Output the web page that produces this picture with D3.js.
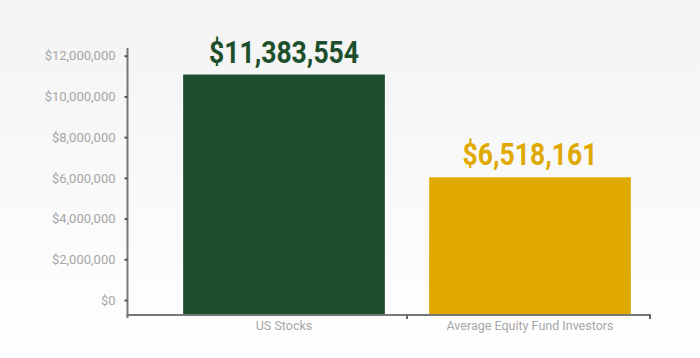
<!DOCTYPE html>
<html><head><meta charset="utf-8">
<script src="https://cdn.jsdelivr.net/npm/d3@7"></script>
<style>html,body{margin:0;padding:0;}svg{display:block;}</style>
</head><body>
<svg id="c" width="700" height="358"></svg>
<script>
const categories = ["US Stocks", "Average Equity Fund Investors"];
const values = [11383554, 6518161];
const barColors = ["#1d4f2c", "#dfa900"];
const yTicks = [0, 2000000, 4000000, 6000000, 8000000, 10000000, 12000000];

const svg = d3.select("#c");
const defs = svg.append("defs");
const grad = defs.append("linearGradient").attr("id","bg").attr("x1",0).attr("y1",0).attr("x2",0).attr("y2",1);
grad.append("stop").attr("offset","0%").attr("stop-color","#f3f3f3");
grad.append("stop").attr("offset","100%").attr("stop-color","#ffffff");
svg.append("rect").attr("width",700).attr("height",358).attr("fill","url(#bg)");

const x = d3.scaleBand().domain(categories).range([161, 653]).paddingInner(0.18).paddingOuter(0.09);
const yBar = d3.scaleLinear().domain([0, 12000000]).range([315, 61.5]);
const yAxisScale = d3.scaleLinear().domain([0, 12000000]).range([300, 55.7]);
const fmt = d3.format("$,");

// bars
svg.selectAll("rect.bar").data(values).join("rect").attr("class","bar")
  .attr("x",(d,i)=>x(categories[i])).attr("width",x.bandwidth())
  .attr("y",d=>yBar(d)).attr("height",d=>yBar(0)-yBar(d))
  .attr("fill",(d,i)=>barColors[i]);

// value labels (condensed look via horizontal compression)
const squeeze = 0.83;
svg.selectAll("text.val").data(values).join("text").attr("class","val")
  .attr("transform",(d,i)=>`translate(${x(categories[i])+x.bandwidth()/2},${yBar(d)-12}) scale(${squeeze},1)`)
  .attr("text-anchor","middle")
  .attr("font-family","Roboto, sans-serif")
  .attr("font-weight","bold").attr("font-size",32)
  .attr("fill",(d,i)=>barColors[i])
  .text(d=>fmt(d));

// y axis
const yAxis = d3.axisLeft(yAxisScale).tickValues(yTicks).tickFormat(fmt).tickSize(3).tickPadding(9);
const gy = svg.append("g").attr("transform","translate(127.5,0)").call(yAxis);
gy.select(".domain").attr("d","M0,48V316").attr("stroke","#777").attr("stroke-width",2);
gy.selectAll(".tick line").attr("stroke","#555").attr("stroke-width",2);
gy.selectAll(".tick text").attr("font-family","Roboto, sans-serif").attr("font-size",13).attr("fill","#a6a6a6");

// x axis
const gx = svg.append("g").attr("transform","translate(0,315)");
const xEnd = 650;
gx.append("line").attr("x1",126.5).attr("x2",xEnd+1).attr("y1",0).attr("y2",0).attr("stroke","#777").attr("stroke-width",2);
const bounds = [x(categories[1]) - x.step()*x.paddingInner()/2, xEnd];
gx.selectAll("line.tk").data(bounds).join("line").attr("class","tk")
  .attr("x1",d=>d).attr("x2",d=>d).attr("y1",0).attr("y2",4).attr("stroke","#666").attr("stroke-width",2);
gx.append("line").attr("x1",127.5).attr("x2",127.5).attr("y1",0).attr("y2",3).attr("stroke","#777").attr("stroke-width",2);
gx.selectAll("text").data(categories).join("text")
  .attr("x",d=>x(d)+x.bandwidth()/2).attr("y",15)
  .attr("text-anchor","middle").attr("font-family","Roboto, sans-serif").attr("font-size",12.5)
  .attr("fill","#a6a6a6").text(d=>d);
</script>
</body></html>
